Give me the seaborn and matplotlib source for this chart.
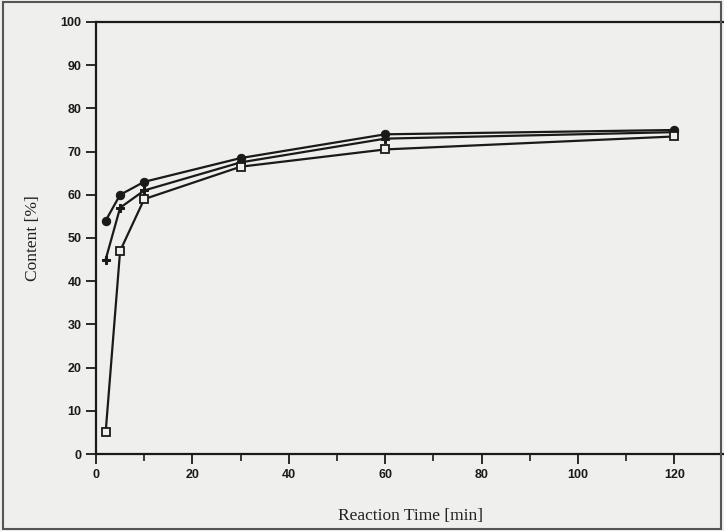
import numpy as np
import pandas as pd
import matplotlib
matplotlib.use("Agg")
import matplotlib.pyplot as plt
import seaborn as sns

time_min = [2, 5, 10, 30, 60, 120]
series_a = [54, 60, 63, 68.5, 74, 75]
series_b = [45, 57, 61, 67.5, 73, 74.5]
series_c = [5, 47, 59, 66.5, 70.5, 73.5]
series_names = ["A", "B", "C"]

df = pd.DataFrame({
    "time": time_min * 3,
    "content": series_a + series_b + series_c,
    "series": [series_names[0]] * 6 + [series_names[1]] * 6 + [series_names[2]] * 6,
})

sns.set_theme(style="white")
paper = "#efefed"
fig = plt.figure(figsize=(7.24, 5.31), dpi=100, facecolor=paper)
ax = fig.add_axes([0.1326, 0.145, 0.8674, 0.8136])
ax.set_facecolor(paper)

sns.lineplot(data=df, x="time", y="content", style="series", hue="series",
             palette={"A": "#1a1a1a", "B": "#1a1a1a", "C": "#1a1a1a"},
             markers={"A": "o", "B": "P", "C": "s"},
             dashes=False, linewidth=1.6, markersize=6, ax=ax, legend=False)
for line in ax.lines:
    if line.get_marker() == "s":
        line.set_markerfacecolor(paper)
        line.set_markeredgecolor("#1a1a1a")
        line.set_markeredgewidth(1.3)
    else:
        line.set_markeredgecolor("#1a1a1a")

ax.set_xlim(0, 130.3)
ax.set_ylim(0, 100)
ax.set_xticks([0, 20, 40, 60, 80, 100, 120])
ax.set_xticks(np.arange(10, 130, 20), minor=True)
ax.set_yticks(np.arange(0, 101, 10))
ax.tick_params(axis="both", which="major", direction="out", length=7, width=1.3,
               colors="#1a1a1a", labelsize=9, left=True, bottom=True)
ax.tick_params(axis="x", which="minor", direction="out", length=5, width=1.2,
               colors="#1a1a1a", bottom=True)
for lab in ax.get_xticklabels() + ax.get_yticklabels():
    lab.set_fontweight("bold")
    lab.set_family("Liberation Sans")

for side in ["left", "bottom", "top"]:
    ax.spines[side].set_visible(True)
    ax.spines[side].set_color("#1a1a1a")
    ax.spines[side].set_linewidth(1.6)
ax.spines["right"].set_visible(False)

ax.set_xlabel("Reaction Time [min]", family="Liberation Serif", fontsize=12.5,
              color="#222222", labelpad=20)
ax.set_ylabel("Content [%]", family="Liberation Serif", fontsize=12.5,
              color="#222222", labelpad=14)

fig.patches.append(plt.Rectangle((0.004, 0.004), 0.992, 0.992, transform=fig.transFigure,
                                 fill=False, edgecolor="#555555", linewidth=1.5))

fig.savefig("out.png", dpi=100, facecolor=paper)
